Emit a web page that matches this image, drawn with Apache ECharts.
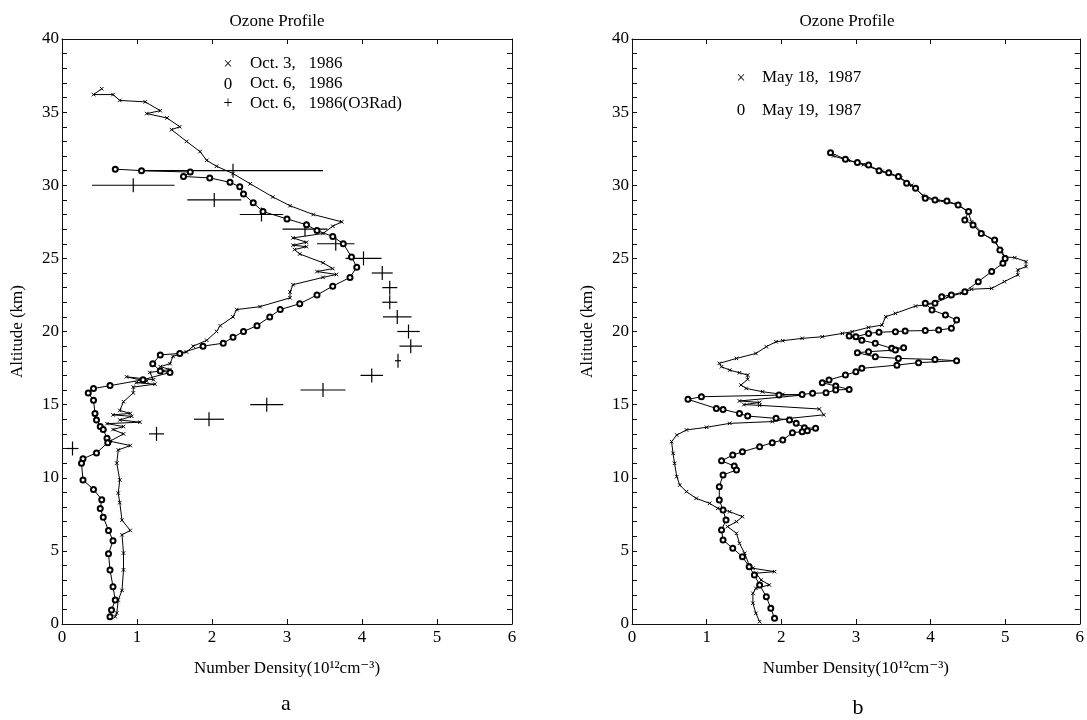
<!doctype html>
<html lang="en">
<head>
<meta charset="UTF-8">
<title>Ozone Profile</title>
<script src="https://cdn.jsdelivr.net/npm/echarts@6/dist/echarts.min.js"></script>
<style>
  html, body { margin: 0; padding: 0; background: #fff; }
  #main { width: 1087px; height: 720px; }
</style>
</head>
<body>
<div id="main"></div>
<script type="text/javascript">
// panel a : Oct. 3, 1986  [density, altitude]
var oct3 = [[0.53,36.6],[0.42,36.2],[0.68,36.2],[0.77,35.8],[1.11,35.7],[1.31,35.1],[1.13,34.9],[1.40,34.6],
  [1.57,34.0],[1.46,33.8],[1.66,33.0],[1.84,32.3],[1.93,31.7],[2.06,31.3],[2.28,30.8],[2.51,30.1],[2.81,29.2],
  [3.04,28.6],[3.35,28.0],[3.73,27.5],[3.61,27.2],[3.48,26.7],[3.08,26.4],[3.26,26.1],[3.08,25.9],[3.26,25.8],
  [3.10,25.6],[3.17,25.3],[3.48,24.7],[3.61,24.3],[3.40,24.1],[3.66,23.9],[3.48,23.7],[3.08,23.2],[3.04,22.7],
  [3.04,22.3],[2.64,21.7],[2.33,21.5],[2.28,21.0],[2.11,20.4],[2.06,20.0],[1.93,19.4],[1.75,19.0],[1.66,18.6],
  [1.48,18.3],[1.44,17.8],[1.31,17.6],[1.44,17.4],[1.17,17.2],[1.22,16.7],[0.86,16.9],[1.13,16.6],[0.99,16.5],
  [1.24,16.4],[0.95,16.2],[0.95,15.8],[0.82,15.2],[0.77,14.6],[0.91,14.4],[0.68,14.3],[0.93,14.2],[0.77,13.95],
  [1.04,13.8],[0.60,13.7],[0.82,13.5],[0.68,13.3],[0.82,13.0],[0.64,12.5],[0.91,12.2],[0.75,11.9],[0.73,11.0],
  [0.77,9.85],[0.75,8.95],[0.77,8.3],[0.80,7.1],[0.91,6.4],[0.80,6.1],[0.82,4.85],[0.82,3.7],[0.80,2.3],
  [0.75,1.64],[0.73,0.75],[0.71,0.5]];

// panel a : Oct. 6, 1986
var oct6 = [[0.71,31.1],[1.06,31.0],[1.71,30.9],[1.62,30.6],[1.97,30.5],[2.24,30.2],[2.37,29.9],[2.42,29.4],
  [2.55,28.8],[2.68,28.2],[3.00,27.7],[3.26,27.3],[3.40,26.9],[3.61,26.5],[3.75,26.0],[3.86,25.1],[3.93,24.4],
  [3.84,23.7],[3.61,23.1],[3.40,22.5],[3.17,21.9],[2.91,21.5],[2.77,21.0],[2.60,20.4],[2.42,20.0],[2.28,19.6],
  [2.15,19.2],[1.88,19.0],[1.57,18.5],[1.31,18.4],[1.21,17.8],[1.31,17.3],[1.44,17.2],[1.08,16.7],[0.64,16.3],
  [0.42,16.1],[0.35,15.8],[0.42,15.3],[0.44,14.4],[0.46,13.95],[0.51,13.5],[0.55,13.3],[0.60,12.7],[0.61,12.4],
  [0.46,11.7],[0.28,11.3],[0.26,11.0],[0.28,9.85],[0.42,9.2],[0.53,8.5],[0.51,7.9],[0.55,7.3],[0.62,6.4],
  [0.68,5.7],[0.62,4.8],[0.64,3.7],[0.68,2.55],[0.71,1.64],[0.66,0.96],[0.64,0.5]];

// panel a : Oct. 6, 1986 (O3Rad) crosses
var o3Alt  = [31, 30, 29, 28, 27, 26, 25, 24, 23, 22, 21, 20, 19, 18, 17, 16, 15, 14, 13, 12];
var o3Val  = [2.28, 0.95, 2.03, 2.66, 3.24, 3.65, 4.02, 4.27, 4.37, 4.37, 4.47, 4.62, 4.65, 4.48, 4.13, 3.48, 2.73, 1.96, 1.26, 0.14];
var o3Half = [1.20, 0.55, 0.36, 0.29, 0.30, 0.25, 0.24, 0.14, 0.10, 0.10, 0.19, 0.15, 0.15, 0.04, 0.15, 0.30, 0.22, 0.20, 0.10, 0.08];

// panel b : May 18, 1987
var may18 = [[2.70,32.0],[2.90,31.7],[3.10,31.4],[3.35,30.95],[3.60,30.5],[3.75,30.0],[3.90,29.3],[4.10,28.95],
  [4.35,28.7],[4.50,28.2],[4.55,27.5],[4.70,26.7],[4.85,26.2],[4.95,25.5],[5.00,25.1],[5.13,25.05],[5.28,24.78],
  [5.28,24.44],[5.17,24.21],[5.17,23.87],[4.99,23.41],[4.82,22.95],[4.55,22.89],[4.42,22.61],[4.24,22.38],
  [4.06,21.93],[3.93,21.82],[3.80,21.74],[3.53,21.24],[3.40,21.01],[3.35,20.44],[3.17,20.28],[2.95,19.99],
  [2.82,19.87],[2.55,19.64],[2.28,19.53],[2.02,19.37],[1.93,19.3],[1.80,18.96],[1.66,18.5],[1.40,18.16],
  [1.17,17.82],[1.20,17.59],[1.31,17.36],[1.44,17.18],[1.55,17.02],[1.55,16.73],[1.46,16.34],[1.53,16.11],
  [1.75,15.88],[2.02,15.7],[2.28,15.65],[1.44,15.25],[1.71,15.15],[1.50,15.0],[1.71,14.95],[2.51,14.7],
  [2.57,14.3],[2.11,14.06],[1.88,13.84],[1.31,13.72],[1.00,13.45],[0.73,13.27],[0.60,12.92],[0.53,12.47],
  [0.55,11.67],[0.57,10.99],[0.60,10.08],[0.64,9.5],[0.73,9.05],[0.86,8.59],[1.04,8.25],[1.15,7.91],[1.31,7.68],
  [1.48,7.34],[1.40,7.0],[1.28,6.66],[1.40,6.2],[1.44,5.52],[1.51,4.83],[1.57,4.04],[1.62,3.81],[1.91,3.58],
  [1.66,3.47],[1.73,3.01],[1.84,2.67],[1.66,2.44],[1.62,2.1],[1.62,1.42],[1.66,0.73],[1.71,0.16]];

// panel b : May 19, 1987
var may19 = [[2.66,32.23],[2.86,31.77],[3.02,31.55],[3.17,31.39],[3.31,31.0],[3.44,30.86],[3.57,30.59],[3.68,30.13],
  [3.80,29.79],[3.93,29.11],[4.06,29.0],[4.22,28.93],[4.37,28.65],[4.51,28.2],[4.46,27.63],[4.57,27.28],
  [4.68,26.7],[4.86,26.26],[4.93,25.57],[5.00,25.0],[4.97,24.66],[4.82,24.1],[4.64,23.41],[4.46,22.72],
  [4.28,22.5],[4.15,22.38],[4.06,21.93],[3.93,21.93],[4.02,21.47],[4.20,21.13],[4.35,20.79],[4.28,20.22],
  [4.11,20.1],[3.93,20.06],[3.66,20.04],[3.53,19.99],[3.31,19.95],[3.17,19.87],[3.00,19.64],[2.91,19.69],
  [3.08,19.4],[3.26,19.19],[3.48,18.85],[3.64,18.89],[3.53,18.73],[3.17,18.62],[3.02,18.55],[3.26,18.27],
  [3.57,18.16],[4.06,18.09],[4.35,18.0],[3.84,17.87],[3.55,17.7],[3.08,17.48],[3.00,17.25],[2.86,17.02],
  [2.64,16.68],[2.55,16.5],[2.73,16.27],[2.91,16.04],[2.73,16.0],[2.60,15.81],[2.42,15.77],[2.28,15.7],
  [1.97,15.65],[0.93,15.54],[0.75,15.36],[1.13,14.74],[1.22,14.67],[1.44,14.4],[1.55,14.22],[1.93,14.06],
  [2.11,13.95],[2.20,13.72],[2.31,13.42],[2.46,13.38],[2.35,13.22],[2.28,13.15],[2.15,13.08],[2.02,12.58],
  [1.88,12.4],[1.71,12.12],[1.48,11.78],[1.35,11.55],[1.20,11.16],[1.37,10.8],[1.40,10.53],[1.22,10.19],
  [1.17,9.39],[1.17,8.48],[1.22,7.8],[1.26,7.11],[1.20,6.43],[1.22,5.74],[1.35,5.18],[1.48,4.6],[1.57,3.92],
  [1.64,3.35],[1.71,2.67],[1.80,1.87],[1.86,1.07],[1.91,0.39]];

var xTicks = [0, 1, 2, 3, 4, 5, 6];
var serif = '"Liberation Serif", "DejaVu Serif", serif';
var xPath = 'path://M0,0L10,10M10,0L0,10';

var o3Data = o3Alt.map(function (a, i) { return [o3Val[i], a, o3Half[i]]; });

function xAx(grid, top) {
    return {
        type: 'value', gridIndex: grid, position: top ? 'top' : 'bottom',
        min: xTicks[0], max: xTicks[xTicks.length - 1], interval: 1,
        axisLine: { show: true, onZero: false, lineStyle: { color: '#111', width: 1 } },
        axisTick: { show: true, inside: true, length: 5, lineStyle: { color: '#111' } },
        axisLabel: { show: !top, color: '#000', fontFamily: serif, fontSize: 17, margin: 5 },
        splitLine: { show: false },
        name: top ? '' : 'Number Density(10¹²cm⁻³)',
        nameLocation: 'middle', nameGap: 36,
        nameTextStyle: { color: '#000', fontFamily: serif, fontSize: 17 }
    };
}
function yAx(grid, right) {
    return {
        type: 'value', gridIndex: grid, position: right ? 'right' : 'left',
        min: 0, max: 40, interval: 1,
        axisLine: { show: true, onZero: false, lineStyle: { color: '#111', width: 1 } },
        axisTick: { show: true, inside: true, length: 5, lineStyle: { color: '#111' } },
        axisLabel: {
            show: !right, color: '#000', fontFamily: serif, fontSize: 17, margin: 3,
            formatter: function (v) { return v % 5 === 0 ? v : ''; }
        },
        splitLine: { show: false },
        name: right ? '' : 'Altitude (km)',
        nameLocation: 'middle', nameGap: 36,
        nameTextStyle: { color: '#000', fontFamily: serif, fontSize: 17 }
    };
}
function lineSeries(name, data, xi, yi, circle) {
    return {
        name: name, type: 'line', xAxisIndex: xi, yAxisIndex: yi, data: data,
        showAllSymbol: true, animation: false,
        symbol: circle ? 'emptyCircle' : xPath,
        symbolSize: circle ? 5 : 3.5,
        lineStyle: { color: '#000', width: 1 },
        itemStyle: { color: '#000', borderColor: '#000', borderWidth: 1 }
    };
}
function txt(x, y, s, size, align) {
    return {
        type: 'text', x: x, y: y,
        style: { text: s, fill: '#000', font: size + 'px ' + serif, align: align || 'left', verticalAlign: 'middle' }
    };
}

var myChart = echarts.init(document.getElementById('main'));

var option = {
    backgroundColor: '#fff',
    animation: false,
    title: [
        { text: 'Ozone Profile', left: 272, top: 8, textAlign: 'center',
          textStyle: { fontFamily: serif, fontSize: 17, fontWeight: 'normal', color: '#000' } },
        { text: 'Ozone Profile', left: 842, top: 8, textAlign: 'center',
          textStyle: { fontFamily: serif, fontSize: 17, fontWeight: 'normal', color: '#000' } }
    ],
    grid: [
        { left: 62, top: 39, width: 450, height: 585 },
        { left: 632, top: 39, width: 450, height: 585 }
    ],
    xAxis: [xAx(0, false), xAx(0, true), xAx(1, false), xAx(1, true)],
    yAxis: [yAx(0, false), yAx(0, true), yAx(1, false), yAx(1, true)],
    series: [
        lineSeries('Oct. 3, 1986', oct3, 0, 0, false),
        lineSeries('Oct. 6, 1986', oct6, 0, 0, true),
        {
            name: 'Oct. 6, 1986(O3Rad)', type: 'custom', xAxisIndex: 0, yAxisIndex: 0,
            data: o3Data, encode: { x: 0, y: 1 }, animation: false,
            renderItem: function (params, api) {
                var c = api.value(0), a = api.value(1), h = api.value(2);
                var p0 = api.coord([c - h, a]), p1 = api.coord([c + h, a]), pc = api.coord([c, a]);
                var st = { stroke: '#000', lineWidth: 1.2 };
                return { type: 'group', children: [
                    { type: 'line', shape: { x1: p0[0], y1: p0[1], x2: p1[0], y2: p1[1] }, style: st },
                    { type: 'line', shape: { x1: pc[0], y1: pc[1] - 7, x2: pc[0], y2: pc[1] + 7 }, style: st }
                ] };
            }
        },
        lineSeries('May 18, 1987', may18, 2, 2, false),
        lineSeries('May 19, 1987', may19, 2, 2, true)
    ],
    graphic: [
        txt(228, 65, '×', 16, 'center'), txt(250, 64, 'Oct. 3,   1986', 17),
        txt(228, 85, '0', 17, 'center'), txt(250, 84, 'Oct. 6,   1986', 17),
        txt(228, 104, '+', 16, 'center'), txt(250, 104, 'Oct. 6,   1986(O3Rad)', 17),
        txt(741, 79, '×', 16, 'center'), txt(762, 78, 'May 18,  1987', 17),
        txt(741, 111, '0', 17, 'center'), txt(762, 111, 'May 19,  1987', 17),
        txt(286, 704, 'a', 22, 'center'),
        txt(858, 708, 'b', 22, 'center')
    ]
};

myChart.setOption(option);
</script>
</body>
</html>
